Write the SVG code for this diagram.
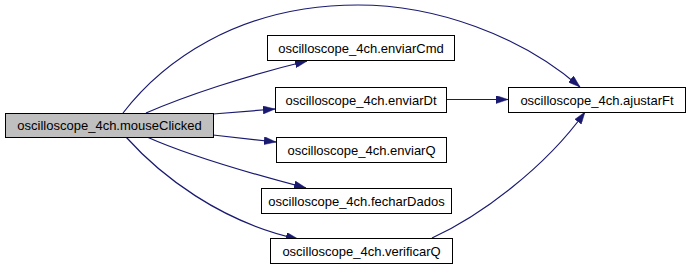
<svg xmlns="http://www.w3.org/2000/svg" width="691" height="270" viewBox="0 0 691 270">
  <style>
    .node rect { fill: #ffffff; stroke: #000000; stroke-width: 1; }
    .node.root rect { fill: #bfbfbf; }
    .node text { font-family: "Liberation Sans", Arial, sans-serif; font-size: 13px; fill: #000000; text-anchor: middle; }
    .edge { fill: none; stroke: #191970; stroke-width: 1.2; marker-end: url(#arrow); }
  </style>
  <defs>
    <marker id="arrow" viewBox="0 0 12 8" refX="12" refY="4" markerWidth="12" markerHeight="8" markerUnits="userSpaceOnUse" orient="auto">
      <path d="M0,0 L12,4 L0,8 Z" fill="#191970" stroke="#191970" stroke-width="0.5"/>
    </marker>
  </defs>

  <!-- call edges -->
  <g id="edges">
    <path class="edge" d="M123,113 C160,65 235,5 358,5 C435,5 520,35 580,87"/>
    <path class="edge" d="M146,113 C185,96 245,76 307,61"/>
    <path class="edge" d="M213,114 L275,109"/>
    <path class="edge" d="M213,135 L276,142"/>
    <path class="edge" d="M147,137 C185,154 245,172 306,188"/>
    <path class="edge" d="M126,137 C160,175 220,222 298,239"/>
    <path class="edge" d="M446,99.5 L508,99.5"/>
    <path class="edge" d="M432,238 C480,216 545,168 585,112"/>
  </g>

  <!-- function nodes -->
  <g id="mouseClicked" class="node root">
    <rect x="5.5" y="113.5" width="208" height="24"/>
    <text x="109.5" y="130">oscilloscope_4ch.mouseClicked</text>
  </g>
  <g id="enviarCmd" class="node">
    <rect x="267.5" y="35.5" width="187" height="25"/>
    <text x="361" y="52.5">oscilloscope_4ch.enviarCmd</text>
  </g>
  <g id="enviarDt" class="node">
    <rect x="275.5" y="87.5" width="171" height="25"/>
    <text x="361" y="104.5">oscilloscope_4ch.enviarDt</text>
  </g>
  <g id="ajustarFt" class="node">
    <rect x="508.5" y="87.5" width="177" height="25"/>
    <text x="597" y="104.5">oscilloscope_4ch.ajustarFt</text>
  </g>
  <g id="enviarQ" class="node">
    <rect x="276.5" y="137.5" width="170" height="25"/>
    <text x="361.5" y="154.5">oscilloscope_4ch.enviarQ</text>
  </g>
  <g id="fecharDados" class="node">
    <rect x="261.5" y="188.5" width="190" height="25"/>
    <text x="356.5" y="205.5">oscilloscope_4ch.fecharDados</text>
  </g>
  <g id="verificarQ" class="node">
    <rect x="270.5" y="238.5" width="182" height="25"/>
    <text x="361.5" y="255.5">oscilloscope_4ch.verificarQ</text>
  </g>
</svg>
